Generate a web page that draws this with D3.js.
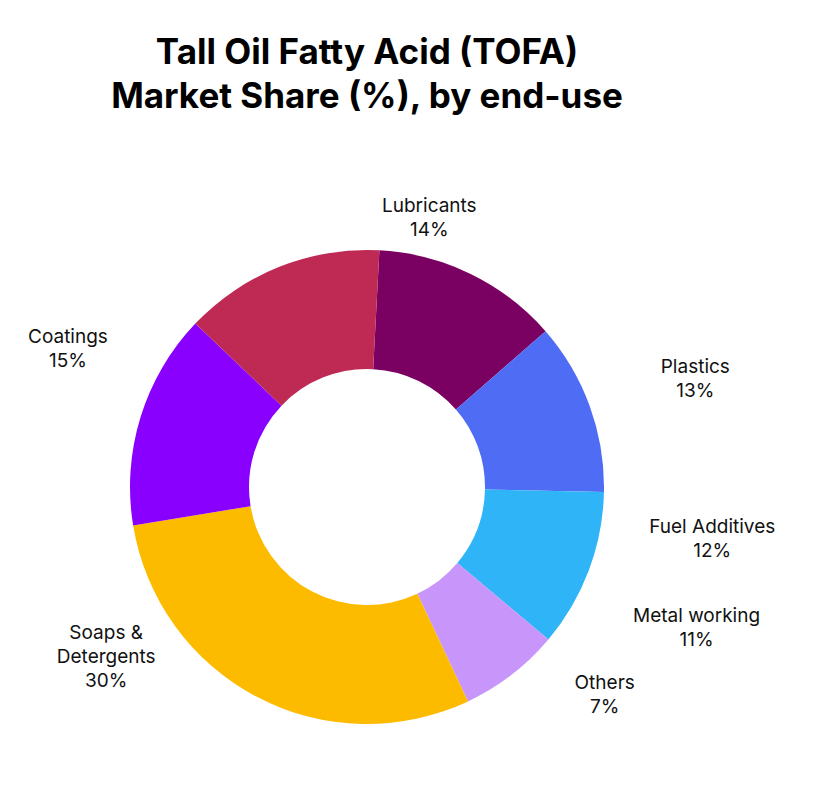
<!DOCTYPE html>
<html><head><meta charset="utf-8">
<script src="https://cdn.jsdelivr.net/npm/d3@7"></script>
<style>body{margin:0;background:#fff;font-family:Inter,"Noto Sans",sans-serif;}</style>
</head><body><svg id="c" width="818" height="790"></svg>
<script>
const categories = ["Plastics","Fuel Additives","Metal working","Others","Soaps & Detergents","Coatings","Lubricants"];
const values = [13,12,11,7,30,15,14];
const colors = ["#7a0062","#4f6cf5","#2fb5f7","#c896fb","#fdbb00","#8a00ff","#bf2a55"];
// label placement (layout): [angle deg clockwise from top, radius px]
const labelLayout = [[71.6,346],[98.4,349],[113,358],[131,315],[237,311],[295,330],[13,277]];
const labelLines = [["Plastics"],["Fuel Additives"],["Metal working"],["Others"],["Soaps &","Detergents"],["Coatings"],["Lubricants"]];

const svg = d3.select("#c");
const cx = 367, cy = 487, R = 237, r0 = 118;
const g = svg.append("g").attr("transform",`translate(${cx},${cy})`);
const toRad = d => d*Math.PI/180;
const pie = d3.pie().sort(null).startAngle(toRad(3)).endAngle(toRad(363));
const arc = d3.arc().innerRadius(r0).outerRadius(R);
const color = d3.scaleOrdinal().domain(categories).range(colors);
const arcs = pie(values);
g.selectAll("path").data(arcs).join("path").attr("d",arc)
  .attr("fill",(d,i)=>color(categories[i]));

arcs.forEach((d,i)=>{
  const [a,rad] = labelLayout[i];
  const x = rad*Math.sin(toRad(a)), y = -rad*Math.cos(toRad(a));
  const lines = labelLines[i].concat([values[i]+"%"]);
  const t = g.append("text").attr("text-anchor","middle").attr("font-size",19).attr("fill","#111");
  const h = 24, y0 = y - (lines.length-1)*h/2 + 7;
  lines.forEach((s,j)=>t.append("tspan").attr("x",x).attr("y",y0+j*h).text(s));
});

const title = svg.append("text").attr("text-anchor","middle").attr("font-weight",700)
  .attr("font-size",35).attr("fill","#000");
title.append("tspan").attr("x",367).attr("y",64).text("Tall Oil Fatty Acid (TOFA)");
title.append("tspan").attr("x",367).attr("y",108).text("Market Share (%), by end-use");
</script></body></html>
